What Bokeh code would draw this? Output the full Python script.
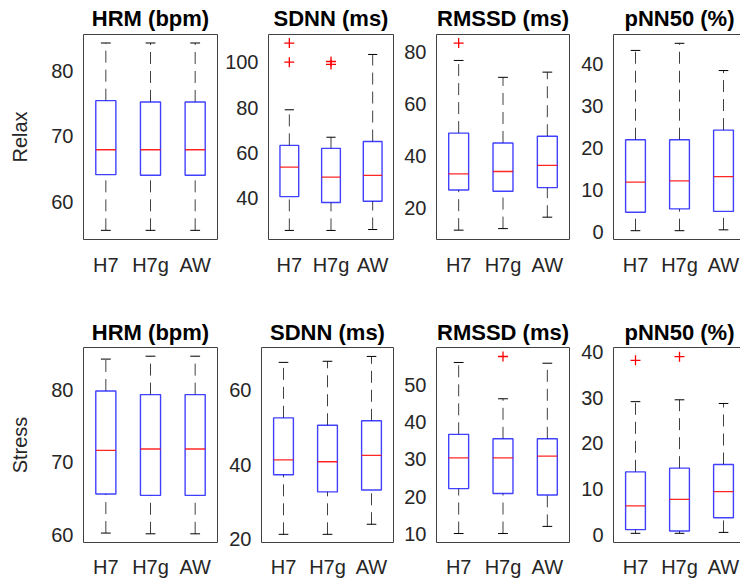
from bokeh.plotting import figure
from bokeh.layouts import column, row
from bokeh.models import Range1d, FixedTicker, ColumnDataSource, LinearAxis
from bokeh.embed import file_html
from bokeh.resources import INLINE

# ---------------- data ----------------
devices = ["H7", "H7g", "AW"]
conditions = ["Relax", "Stress"]
metrics = ["HRM (bpm)", "SDNN (ms)", "RMSSD (ms)", "pNN50 (%)"]

# rows: lower whisker, Q1, median, Q3, upper whisker ; columns: devices
relax_hrm = [[55.6, 55.6, 55.6], [64.1, 64.0, 64.0], [67.9, 67.9, 67.9], [75.4, 75.2, 75.2], [84.2, 84.2, 84.2]]
relax_sdnn = [[25.8, 25.8, 26.2], [40.7, 38.1, 38.7], [53.7, 49.3, 50.1], [63.3, 62.0, 65.0], [79.0, 66.9, 103.4]]
relax_rmssd = [[11.4, 12.0, 16.4], [26.9, 26.4, 27.8], [33.1, 34.0, 36.4], [48.8, 45.0, 47.6], [76.8, 70.3, 72.3]]
relax_pnn50 = [[0.2, 0.2, 0.4], [4.6, 5.4, 4.8], [11.8, 12.1, 13.1], [21.9, 21.9, 24.2], [43.2, 44.9, 38.4]]

stress_hrm = [[60.2, 60.1, 60.1], [65.6, 65.4, 65.4], [71.6, 71.8, 71.8], [79.8, 79.3, 79.3], [84.2, 84.6, 84.6]]
stress_sdnn = [[21.3, 21.3, 24.0], [37.3, 32.7, 33.2], [41.3, 40.8, 42.5], [52.6, 50.6, 51.8], [67.5, 67.8, 69.1]]
stress_rmssd = [[10.2, 10.2, 12.1], [22.2, 20.9, 20.5], [30.4, 30.4, 30.9], [36.7, 35.5, 35.5], [55.9, 46.2, 55.7]]
stress_pnn50 = [[0.4, 0.4, 0.6], [1.2, 0.9, 3.8], [6.4, 7.8, 9.5], [13.8, 14.6, 15.4], [29.1, 29.5, 28.7]]

# outliers (device, value)
relax_hrm_out_dev, relax_hrm_out_val = [], []
relax_sdnn_out_dev = ["H7", "H7", "H7g", "H7g"]
relax_sdnn_out_val = [108.4, 100.0, 100.3, 99.0]
relax_rmssd_out_dev = ["H7"]
relax_rmssd_out_val = [83.5]
relax_pnn50_out_dev, relax_pnn50_out_val = [], []
stress_hrm_out_dev, stress_hrm_out_val = [], []
stress_sdnn_out_dev, stress_sdnn_out_val = [], []
stress_rmssd_out_dev = ["H7g"]
stress_rmssd_out_val = [57.5]
stress_pnn50_out_dev = ["H7", "H7g"]
stress_pnn50_out_val = [38.1, 38.9]

# y ticks
relax_ticks = [[60, 70, 80], [40, 60, 80, 100], [20, 40, 60, 80], [0, 10, 20, 30, 40]]
stress_ticks = [[60, 70, 80], [20, 40, 60], [10, 20, 30, 40, 50], [0, 10, 20, 30, 40]]
# y limits
relax_ylim = [(54.2, 85.5), (21.8, 112.2), (7.8, 86.8), (-1.9, 47.0)]
stress_ylim = [(58.9, 85.8), (19.1, 71.5), (7.8, 59.9), (-1.6, 40.9)]

# ---------------- layout / style ----------------
FONT = "Liberation Sans"
TXT = "#262626"
FRAME = "#404040"
fig_w = [220, 180, 175, 165]
left_top = [83, 48, 36, 38]
left_bot = [83, 41, 36, 38]
right_b = [3, 7, 6, 0]
x_end = [3.5, 3.5, 3.5, 3.386]
BOX_W = 0.45
CAP_W = 0.22


def panel(i, stats, out_dev, out_val, ticks, ylim, title, height, top, bottom,
          left, ylabel, title_standoff, xlab_standoff):
    p = figure(width=fig_w[i], height=height,
               x_range=Range1d(0.5, x_end[i]), y_range=Range1d(*ylim),
               output_backend="svg", toolbar_location=None,
               min_border_left=left, min_border_right=right_b[i],
               min_border_top=top, min_border_bottom=bottom, title=title)
    p.grid.visible = False
    p.background_fill_color = "white"
    p.border_fill_color = "white"

    xs = [k + 1 for k in range(len(devices))]
    lo, q1, med, q3, hi = stats
    src = ColumnDataSource(dict(
        x=xs, lo=lo, q1=q1, med=med, q3=q3, hi=hi,
        bl=[x - BOX_W / 2 for x in xs], br=[x + BOX_W / 2 for x in xs],
        cl=[x - CAP_W / 2 for x in xs], cr=[x + CAP_W / 2 for x in xs]))

    # whiskers (dashed), drawn from lower to higher value
    p.segment(x0="x", y0="q3", x1="x", y1="hi", source=src, line_color="black",
              line_width=1, line_dash="12 7", line_alpha=0.75)
    p.segment(x0="x", y0="lo", x1="x", y1="q1", source=src, line_color="black",
              line_width=1, line_dash="12 7", line_alpha=0.75)
    # caps
    p.segment(x0="cl", y0="hi", x1="cr", y1="hi", source=src, line_color="black", line_width=1)
    p.segment(x0="cl", y0="lo", x1="cr", y1="lo", source=src, line_color="black", line_width=1)
    # box
    p.quad(left="bl", right="br", bottom="q1", top="q3", source=src,
           fill_color=None, line_color="#0000ff", line_width=1.4, line_alpha=0.75)
    # median
    p.segment(x0="bl", y0="med", x1="br", y1="med", source=src,
              line_color="#ff0000", line_width=1.3, line_alpha=0.85)
    # outliers
    if out_dev:
        ox = [devices.index(d) + 1 for d in out_dev]
        p.scatter(x=ox, y=out_val, marker="cross", size=10, line_color="#ff0000",
                  line_width=1.3)

    # axes
    p.xaxis.ticker = FixedTicker(ticks=xs)
    p.xaxis.major_label_overrides = {x: d for x, d in zip(xs, devices)}
    p.yaxis.ticker = FixedTicker(ticks=ticks)
    for ax in (p.xaxis[0], p.yaxis[0]):
        ax.major_tick_line_color = None
        ax.minor_tick_line_color = None
        ax.major_tick_out = 0
        ax.major_tick_in = 0
        ax.axis_line_color = None
        ax.major_label_text_font = FONT
        ax.major_label_text_font_size = "20px"
        ax.major_label_text_color = TXT
    p.yaxis.major_label_standoff = 10
    p.xaxis.major_label_standoff = xlab_standoff

    if ylabel:
        p.yaxis.axis_label = ylabel
        p.yaxis.axis_label_text_font = FONT
        p.yaxis.axis_label_text_font_size = "20px"
        p.yaxis.axis_label_text_font_style = "normal"
        p.yaxis.axis_label_text_color = TXT
        p.yaxis.axis_label_standoff = 17

    p.title.text_font = FONT
    p.title.text_font_size = "22px"
    p.title.text_font_style = "bold"
    p.title.text_color = "black"
    p.title.standoff = title_standoff
    if i == len(fig_w) - 1:
        # frame is cut at the right edge of the picture: draw left, bottom, top lines only
        p.outline_line_color = None
        p.xaxis.axis_line_color = FRAME
        p.yaxis.axis_line_color = FRAME
        top_ax = LinearAxis(ticker=FixedTicker(ticks=[]), axis_line_color=FRAME,
                            major_tick_out=0, major_tick_in=0, major_label_standoff=0,
                            major_label_text_font_size="0px",
                            minor_tick_line_color=None, major_tick_line_color=None)
        p.add_layout(top_ax, "above")
        p.title.align = "left"
        p.title.offset = 11
    else:
        p.outline_line_color = FRAME
        p.outline_line_width = 1
        p.title.align = "center"
    return p


relax_stats = [relax_hrm, relax_sdnn, relax_rmssd, relax_pnn50]
stress_stats = [stress_hrm, stress_sdnn, stress_rmssd, stress_pnn50]
relax_out = [(relax_hrm_out_dev, relax_hrm_out_val), (relax_sdnn_out_dev, relax_sdnn_out_val),
             (relax_rmssd_out_dev, relax_rmssd_out_val), (relax_pnn50_out_dev, relax_pnn50_out_val)]
stress_out = [(stress_hrm_out_dev, stress_hrm_out_val), (stress_sdnn_out_dev, stress_sdnn_out_val),
              (stress_rmssd_out_dev, stress_rmssd_out_val), (stress_pnn50_out_dev, stress_pnn50_out_val)]

top_row = []
bot_row = []
for i in range(4):
    top_row.append(panel(i, relax_stats[i], relax_out[i][0], relax_out[i][1],
                         relax_ticks[i], relax_ylim[i], metrics[i],
                         height=300, top=34, bottom=61, left=left_top[i],
                         ylabel=conditions[0] if i == 0 else None,
                         title_standoff=7, xlab_standoff=14))
    bot_row.append(panel(i, stress_stats[i], stress_out[i][0], stress_out[i][1],
                         stress_ticks[i], stress_ylim[i], metrics[i],
                         height=280, top=47, bottom=37, left=left_bot[i],
                         ylabel=conditions[1] if i == 0 else None,
                         title_standoff=6, xlab_standoff=13))

layout = column(row(*top_row), row(*bot_row))
open("out.html", "w").write(file_html(layout, INLINE))
